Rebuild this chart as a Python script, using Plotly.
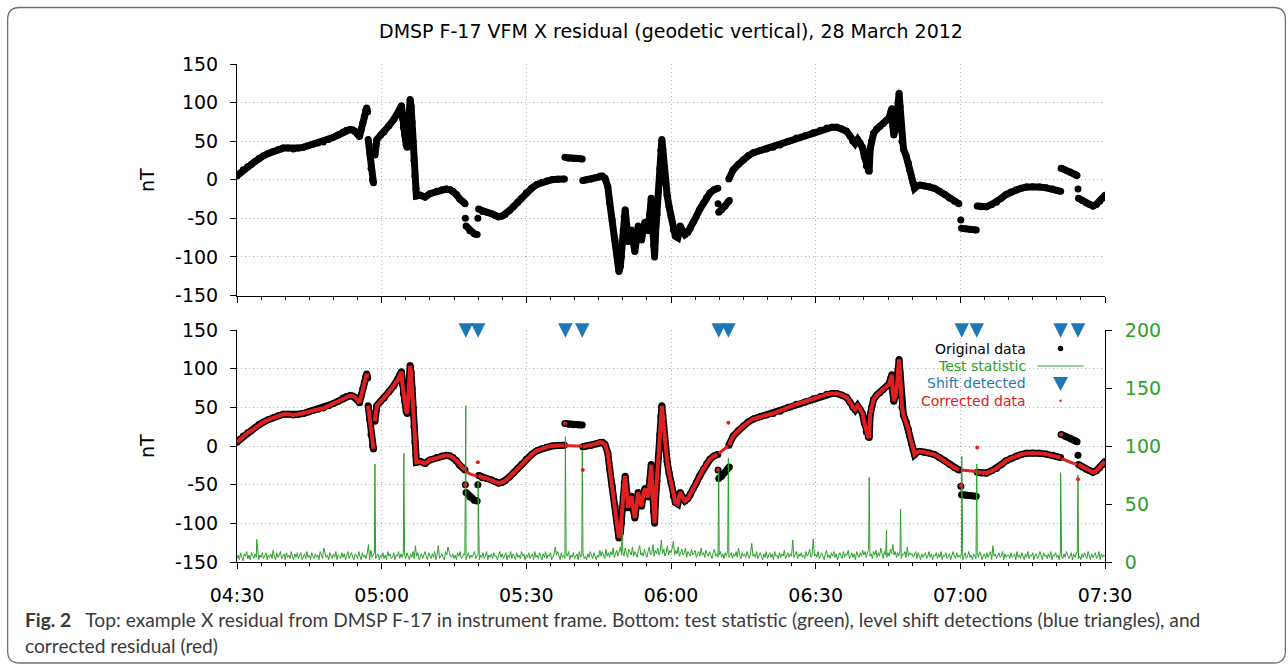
import plotly.graph_objects as go

# ---------------------------------------------------------------------------
# Time axis: minutes after 04:30 UT on 28 March 2012
# ---------------------------------------------------------------------------
tick_minutes = [0, 30, 60, 90, 120, 150, 180]
tick_labels = ["04:30", "05:00", "05:30", "06:00", "06:30", "07:00", "07:30"]
minor_minutes = [m for m in range(5, 180, 5) if m % 30]

nt_ticks = [-150, -100, -50, 0, 50, 100, 150]
nt_labels = ["-150", "-100", "-50", "0", "50", "100", "150"]
stat_ticks = [0, 50, 100, 150, 200]

# Original X residual (nT) on its un-shifted level; None breaks the trace
main_t = [
    0, 0.7, 1.3, 2.2, 3.0, 3.8, 4.6, 5.5, 6.5, 7.5, 8.5, 9.6, 10.6, 11.7, 12.7, 13.7, 14.8, 15.8,
    16.8, 17.9, 19.0, 20.0, 21.0, 22.0, 22.7, 23.4, 24.0, 24.5, 25.0, 25.4, 25.8, 26.1, 26.4, 26.7,
    26.9, 27.1, None,
    27.2, 27.5, 27.8, 28.1, 28.3, None,
    28.6, 28.8, 29.0, 29.8, 30.5, 31.5, 32.5, 33.3, 33.8, 34.1, 34.3, 34.5, 34.8, 35.1, 35.3, 35.5,
    35.7, 35.9, 36.1, 36.3, 36.5, 36.7, 36.9, 37.1, 37.2, 38.0, 39.0, 40.0, 41.4, 42.5, 43.4, 44.2,
    44.8, 45.5, 46.2, 46.8, 47.3, None,
    50.1, 50.9, 51.8, 52.8, 53.5, 54.2, 55.0, 55.6, 56.5, 57.3, 58.2, 59.0, 60.0, 61.1, 62.2, 63.2,
    64.2, 65.3, 66.5, 67.9, None,
    71.7, 72.5, 73.5, 74.5, 75.3, 75.8, 76.3, 76.9, 77.3, 77.8,
    78.4, 78.9, 79.2, 79.5, 79.7, 79.9, 80.1, 80.3, 80.5, 80.8,
    81.1, 81.4, 81.8, 82.2, 82.5, 82.9, 83.2, 83.6, 83.9, 84.3,
    84.6, 85.0, 85.3, 85.6, 85.9, 86.1, 86.4, 86.6, 86.8, 87.1,
    87.4, 87.7, 87.9, 88.1, 88.3, 88.6, 88.9, 89.2, 89.6, 90.0,
    90.5, 90.9, 91.4, 91.9, 92.4, 92.9, 93.5, 94.0, 94.6, 95.3,
    96.0, 96.7, 97.4, 98.1, 98.9, 99.7, None,
    102.0, 102.9, 104.0, 105.0, 106.0, 107.1, 108.5, 109.8, 111.2, 112.6,
    114.3, 116.0, 117.8, 119.5, 121.0, 122.3, 123.4, 124.4, 125.4, 126.4,
    127.1, 127.7, 128.2, 128.7, 129.2, 129.7, 130.1, 130.5, 130.9, 131.1,
    131.3, 131.6, 132.0, 132.7, 133.3, 134.0, 134.7, 135.2, 135.6, 135.8,
    136.0, 136.2, 136.6, 136.9, 137.1, 137.3, 137.5, 137.7, 137.9, 138.2,
    138.8, 139.2, 139.5, 139.9, 140.2, 140.5, 141.0, 141.6, 142.6, 143.6,
    144.6, 145.7, 146.8, 147.8, 148.8, 149.7, None,
    153.5, 154.4, 155.4, 156.5, 157.5, 158.5, 159.5, 160.5, 161.6, 162.6, 163.7, 165.0, 166.4,
    167.8, 169.2, 170.0, 170.8, None,
    174.5, 175.3, 176.1, 176.8, 177.5, 178.2, 178.9, 179.5, 180.0,
]
main_v = [
    5, 9, 13, 17, 20, 24, 28, 31, 34, 36.5, 39, 41, 41, 40, 41, 42, 44, 46,
    47.5, 49, 52, 55, 58, 62, 64, 65, 64.5, 63, 59, 56, 66, 74, 82, 90,
    93, 88, None,
    52, 35, 15, 0, -4, None,
    32, 45, 52, 58, 62, 70, 78, 85, 92, 96, 80, 68, 58, 45, 42, 60,
    85, 104, 95, 75, 50, 25, 5, -12, -21, -20, -22.5, -18, -15, -13, -12, -13,
    -15, -19, -25, -28, -31, None,
    -38, -41, -42, -44, -46, -48, -47, -45, -40, -35, -29, -24, -17, -11, -6, -3.5,
    -1.5, 0, 0.5, 1, None,
    -1, 0, 1, 3, 5, 4.5, 2, -9, -30, -52,
    -78, -104, -119, -112, -100, -82, -65, -48, -39, -58,
    -80, -72, -65, -82, -93, -75, -60, -72, -78, -62,
    -55, -62, -66, -45, -24, -50, -85, -100, -70, -45,
    -15, 15, 38, 52, 40, 15, -5, -20, -35, -48,
    -65, -73, -75, -60, -66, -71, -68, -63, -55, -47,
    -38, -30, -23, -17, -13, -11, None,
    1, 13, 20, 26, 31, 35, 38, 40, 42, 45,
    50, 54, 57, 61, 64, 67, 68, 68, 66, 63,
    57, 50, 47, 52, 48, 42, 30, 18, 12, 11,
    40, 50, 60, 66, 69, 73, 77, 80, 88, 92,
    70, 58, 66, 80, 100, 112, 95, 65, 50, 40,
    30, 22, 13, 3, -4, -11, -8, -7, -8, -9,
    -11, -15, -19, -24, -28, -31, None,
    -34, -35, -35, -32, -29, -24, -19, -16, -13, -11, -9.5, -9, -9.5,
    -10.5, -12, -13.5, -15, None,
    -24, -27, -30, -32, -34, -32, -28, -24, -20,
]

# Original samples sitting on a shifted level (plus single stray samples)
shift_t = [47.35, None, 47.5, 48.3, 49.2, 49.8, None, 49.95, None,
           68.0, 68.8, 69.8, 70.8, 71.6, None,
           99.75, None, 99.9, 100.5, 101.2, 101.8, 102.1, None,
           150.1, None, 150.25, 151.0, 152.0, 153.3, None,
           170.9, 171.8, 172.8, 173.8, 174.2, None, 174.4]
shift_v = [-50, None, -60, -66, -70, -71, None, -50, None,
           29, 28, 27.5, 27.5, 27, None,
           -31, None, -42, -39, -34, -29, -27, None,
           -52, None, -63, -63.5, -64, -65, None,
           15, 12.5, 10, 7, 5.5, None, -12]

# Corrected values over the shifted runs
fixed_t = [47.5, 48.3, 49.2, 49.8, None,
           68.1, 69.0, 70.0, 71.0, 71.6, None,
           99.9, 100.5, 101.2, 101.8, None,
           150.25, 151.0, 152.0, 153.3, None,
           170.95, 171.8, 172.8, 173.8, 174.2]
fixed_v = [-33, -36, -38, -39, None,
           0.5, 0, 0, 0, -0.5, None,
           -10, -7, -3, 0, None,
           -31, -31.5, -32, -33, None,
           -16, -18.5, -21, -23, -24]

# Corrected single samples at the run boundaries
edge_t = [47.35, 49.95, 68.0, 71.7, 99.75, 101.9, 150.1, 153.5, 170.9, 174.4]
edge_v = [-50, -21, 29, -31, -31, 30, -51, -2, 15, -43]

# Detected level shifts
detect_t = [47.45, 50.0, 68.1, 71.6, 99.9, 101.9, 150.3, 153.4, 170.8, 174.4]

# Test statistic: background every 15 s (one row = 10 minutes), plus isolated peaks
stat_step = 0.25
stat_noise = [
    3, 6, 2, 8, 4, 1, 7, 5, 9, 3, 6, 2, 8, 5, 3, 7, 4, 9, 2, 6, 4, 8, 3, 5, 8, 2, 6, 4, 7, 3, 10, 5, 2, 8, 4, 6, 9, 3, 5, 7,
    2, 8, 4, 6, 3, 9, 5, 2, 7, 4, 8, 3, 6, 8, 2, 5, 7, 3, 9, 4, 6, 2, 8, 5, 3, 7, 4, 6, 2, 9, 5, 3, 12, 7, 4, 6, 2, 8, 5, 3,
    7, 4, 9, 2, 6, 5, 3, 8, 4, 7, 2, 6, 9, 3, 5, 8, 4, 2, 7, 6, 3, 9, 5, 2, 8, 4, 6, 3, 7, 15, 2, 10, 4, 6, 8, 3, 5, 7, 2, 6,
    4, 8, 3, 6, 2, 9, 5, 7, 3, 4, 8, 2, 6, 5, 9, 3, 7, 4, 8, 6, 3, 8, 5, 2, 7, 4, 9, 3, 14, 5, 8, 2, 4, 7, 3, 6, 9, 5, 2, 8,
    5, 3, 7, 4, 9, 2, 6, 14, 3, 5, 7, 4, 2, 9, 6, 13, 8, 5, 4, 7, 3, 6, 2, 8, 5, 9, 3, 4, 7, 6, 2, 5, 8, 3, 6, 4, 6, 9, 3, 5,
    7, 2, 6, 4, 8, 3, 5, 9, 2, 6, 4, 7, 3, 8, 5, 5, 2, 6, 9, 4, 7, 3, 5, 8, 2, 6, 4, 9, 3, 7, 5, 2, 8, 4, 6, 3, 9, 5, 7, 2,
    6, 4, 8, 3, 5, 7, 2, 9, 4, 6, 3, 8, 5, 2, 7, 4, 9, 3, 6, 5, 8, 2, 4, 7, 13, 6, 9, 5, 2, 8, 4, 6, 3, 7, 5, 9, 2, 6, 4, 8,
    3, 5, 7, 2, 9, 4, 6, 8, 3, 5, 2, 7, 4, 9, 6, 3, 8, 5, 2, 6, 4, 10, 5, 9, 6, 3, 11, 5, 8, 4, 9, 6, 12, 4, 7, 10, 5, 8, 13, 6,
    9, 5, 12, 7, 4, 11, 8, 6, 13, 5, 9, 7, 4, 10, 14, 6, 8, 5, 11, 7, 4, 9, 13, 6, 8, 15, 5, 10, 7, 12, 6, 9, 19, 7, 11, 5, 8, 14, 6, 10,
    8, 12, 18, 6, 10, 7, 13, 5, 9, 11, 6, 8, 12, 4, 9, 7, 5, 11, 6, 8, 10, 4, 7, 9, 5, 12, 6, 8, 4, 10, 7, 5, 9, 6, 3, 8, 11, 5, 7, 4,
    6, 9, 4, 7, 3, 8, 5, 10, 4, 6, 8, 3, 7, 5, 9, 4, 12, 6, 3, 8, 5, 7, 4, 9, 6, 3, 8, 16, 5, 7, 4, 9, 3, 6, 8, 5, 2, 7, 4, 9,
    3, 6, 8, 4, 7, 2, 9, 5, 6, 3, 8, 4, 7, 5, 10, 3, 6, 8, 4, 7, 5, 19, 4, 6, 9, 3, 7, 5, 8, 4, 6, 3, 9, 5, 7, 11, 4, 6, 20, 5,
    7, 4, 9, 3, 6, 8, 5, 2, 7, 10, 4, 6, 3, 8, 5, 9, 4, 7, 2, 6, 8, 5, 3, 9, 4, 7, 6, 10, 3, 5, 8, 4, 7, 2, 9, 6, 4, 8, 5, 10,
    6, 9, 4, 8, 11, 5, 7, 3, 9, 6, 10, 4, 8, 5, 12, 7, 3, 9, 6, 4, 8, 5, 11, 7, 15, 6, 9, 4, 8, 5, 10, 3, 7, 6, 9, 4, 13, 5, 8, 6,
    7, 4, 6, 9, 3, 8, 5, 2, 7, 4, 6, 8, 3, 5, 9, 4, 7, 2, 6, 5, 8, 3, 7, 4, 9, 2, 6, 5, 8, 3, 4, 7, 2, 6, 9, 5, 3, 8, 4, 6,
    4, 7, 2, 6, 8, 3, 5, 9, 4, 6, 2, 7, 5, 3, 8, 4, 9, 6, 2, 5, 7, 3, 8, 4, 6, 9, 2, 14, 5, 7, 3, 6, 8, 4, 5, 9, 2, 7, 4, 6,
    6, 3, 8, 4, 5, 7, 2, 9, 4, 6, 3, 8, 5, 2, 7, 4, 9, 3, 6, 5, 8, 2, 6, 7, 3, 5, 9, 4, 2, 8, 5, 6, 3, 7, 4, 9, 2, 6, 5, 8,
    4, 6, 2, 8, 5, 3, 7, 4, 9, 6, 3, 5, 8, 2, 7, 4, 6, 9, 3, 5, 2, 7, 4, 8, 6, 3, 9, 5, 2, 7, 4, 6, 8, 3, 5, 9, 2, 7, 4, 6,
    5,
]
peak_t = [4.1, 28.6, 34.6, 47.45, 50.0, 68.1, 71.6, 79.9, 99.9, 101.9,
          131.1, 134.7, 137.6, 150.3, 153.4, 170.8, 174.4]
peak_v = [19.5, 84.5, 93.7, 134.7, 70, 108, 96.5, 59, 78, 89.5,
          73, 27.6, 45.7, 91, 84.5, 77, 75]

assert len(main_t) == len(main_v)
assert len(shift_t) == len(shift_v)
assert len(fixed_t) == len(fixed_v)
assert len(stat_noise) == 721

stat_pts = sorted([(i * stat_step, v) for i, v in enumerate(stat_noise)] + list(zip(peak_t, peak_v)))
stat_t = [p[0] for p in stat_pts]
stat_v = [p[1] for p in stat_pts]

# ---------------------------------------------------------------------------
# Styling
# ---------------------------------------------------------------------------
BLACK, GREEN, BLUE, RED = "#000000", "#2ca02c", "#1f77b4", "#e02020"
GRID = "#b4b4b4"
GRID_DASH = "1px,3px"
TICK_FONT = dict(family="DejaVu Sans", size=19, color="black")
FIG_W, FIG_H = 1288, 665
PL, PR, PT, PB = 237, 1105.5, 64, 562          # plot box in pixels
TOP_BOTTOM, BOT_TOP = 295.5, 330               # panel edges in pixels
TRI_Y = 140                                    # marker tip just under the top of the lower panel


def px(x):
    return (x - PL) / (PR - PL)


def py(y):
    return (PB - y) / (PB - PT)


fig = go.Figure()

# Upper panel: original residual
for tt, vv in ((main_t, main_v), (shift_t, shift_v)):
    fig.add_trace(go.Scatter(x=tt, y=vv, mode="lines+markers", xaxis="x", yaxis="y",
                             line=dict(color=BLACK, width=7), marker=dict(color=BLACK, size=7),
                             hoverinfo="skip"))

# Lower panel: original residual underneath
for tt, vv in ((main_t, main_v), (shift_t, shift_v)):
    fig.add_trace(go.Scatter(x=tt, y=vv, mode="lines+markers", xaxis="x2", yaxis="y2",
                             line=dict(color=BLACK, width=7), marker=dict(color=BLACK, size=7),
                             hoverinfo="skip"))

# Test statistic on the right-hand scale
fig.add_trace(go.Scatter(x=stat_t, y=stat_v, mode="lines", xaxis="x2", yaxis="y4",
                         line=dict(color=GREEN, width=1), hoverinfo="skip"))

# Corrected residual on top
fig.add_trace(go.Scatter(x=main_t, y=main_v, mode="lines", xaxis="x2", yaxis="y5",
                         line=dict(color=RED, width=4), hoverinfo="skip"))
fig.add_trace(go.Scatter(x=fixed_t, y=fixed_v, mode="lines", xaxis="x2", yaxis="y5",
                         line=dict(color=RED, width=3), hoverinfo="skip"))
fig.add_trace(go.Scatter(x=edge_t, y=edge_v, mode="markers", xaxis="x2", yaxis="y5",
                         marker=dict(color=RED, size=4), hoverinfo="skip"))

# Shift detections
fig.add_trace(go.Scatter(x=detect_t, y=[TRI_Y] * len(detect_t), mode="markers",
                         xaxis="x2", yaxis="y5", cliponaxis=False,
                         marker=dict(symbol="arrow-down", size=14.5, color=BLUE),
                         hoverinfo="skip"))

x_common = dict(range=[0, 180], showline=True, linecolor="black", linewidth=1,
                ticks="outside", ticklen=6, tickcolor="black", tickwidth=1,
                tickmode="array", tickvals=tick_minutes, ticktext=tick_labels,
                showgrid=True, gridcolor=GRID, griddash=GRID_DASH, gridwidth=1, zeroline=False,
                minor=dict(tickmode="array", tickvals=minor_minutes, ticks="outside",
                           ticklen=3, tickcolor="black", tickwidth=1, showgrid=False),
                tickfont=TICK_FONT, fixedrange=True)
y_common = dict(range=[-150, 150], tickmode="array", tickvals=nt_ticks, ticktext=nt_labels,
                showline=True, linecolor="black", linewidth=1, ticks="outside", ticklen=6,
                tickcolor="black", showgrid=True, gridcolor=GRID, griddash=GRID_DASH, gridwidth=1,
                zeroline=False, tickfont=TICK_FONT, ticklabelstandoff=8, fixedrange=True)

top_dom = [py(TOP_BOTTOM), 1]
bot_dom = [0, py(BOT_TOP)]

fig.update_layout(
    width=FIG_W, height=FIG_H,
    margin=dict(l=PL, r=FIG_W - PR, t=PT, b=FIG_H - PB, pad=0),
    paper_bgcolor="white", plot_bgcolor="white", showlegend=False,
    xaxis=dict(x_common, anchor="y", showticklabels=False),
    xaxis2=dict(x_common, anchor="y2", ticklabelstandoff=10),
    yaxis=dict(y_common, domain=top_dom, anchor="x"),
    yaxis3=dict(range=[-150, 150], overlaying="y", side="right", anchor="x",
                tickmode="array", tickvals=nt_ticks,
                ticks="inside", ticklen=6, tickcolor="black", showline=True, linecolor="black",
                showticklabels=False, showgrid=False, zeroline=False, fixedrange=True),
    yaxis2=dict(y_common, domain=bot_dom, anchor="x2"),
    yaxis4=dict(range=[0, 200], overlaying="y2", side="right", anchor="x2",
                tickmode="array", tickvals=stat_ticks, ticks="outside", ticklen=6,
                tickcolor="black", showline=True, linecolor="black", showgrid=False,
                zeroline=False, tickfont=dict(TICK_FONT, color=GREEN), ticklabelstandoff=9,
                fixedrange=True),
    yaxis5=dict(range=[-150, 150], overlaying="y2", anchor="x2", visible=False, fixedrange=True),
)

annotations = [
    dict(text="DMSP F-17 VFM X residual (geodetic vertical), 28 March 2012",
         x=px(671), y=py(31), font=dict(family="DejaVu Sans", size=19, color="black")),
    dict(text="nT", x=px(147), y=py(180), textangle=-90, font=TICK_FONT),
    dict(text="nT", x=px(147), y=py(446), textangle=-90, font=TICK_FONT),
]
legend_rows = [("Original data", BLACK, 348.5), ("Test statistic", GREEN, 366),
               ("Shift detected", BLUE, 383.3), ("Corrected data", RED, 400.7)]
for label, color, yy in legend_rows:
    annotations.append(dict(text=label, x=px(1028), y=py(yy), xanchor="right",
                            font=dict(family="DejaVu Sans", size=14, color=color)))

cap_font = dict(family="Lato", size=19.2, color="#3a3a3a")
annotations += [
    dict(text="<b>Fig. 2</b>\u00a0\u00a0 Top: example X residual from DMSP F-17 in instrument frame. "
              "Bottom: test statistic (green), level shift detections (blue triangles), and",
         x=px(23), y=py(619), xanchor="left", font=cap_font),
    dict(text="corrected residual (red)", x=px(23), y=py(645), xanchor="left", font=cap_font),
]
for a in annotations:
    a.setdefault("xref", "paper")
    a.setdefault("yref", "paper")
    a.setdefault("showarrow", False)
    a.setdefault("xanchor", "center")
    a.setdefault("yanchor", "middle")
fig.update_layout(annotations=annotations)

# Legend symbols and the rounded frame
L_, R_, T_, B_, rad = 7.5, 1286, 7.5, 663, 12
frame = (f"M {px(L_ + rad)},{py(T_)} L {px(R_ - rad)},{py(T_)} "
         f"Q {px(R_)},{py(T_)} {px(R_)},{py(T_ + rad)} L {px(R_)},{py(B_ - rad)} "
         f"Q {px(R_)},{py(B_)} {px(R_ - rad)},{py(B_)} L {px(L_ + rad)},{py(B_)} "
         f"Q {px(L_)},{py(B_)} {px(L_)},{py(B_ - rad)} L {px(L_)},{py(T_ + rad)} "
         f"Q {px(L_)},{py(T_)} {px(L_ + rad)},{py(T_)} Z")
tri = (f"M {px(1053.5)},{py(377)} L {px(1068.5)},{py(377)} L {px(1061)},{py(391)} Z")
shapes = [
    dict(type="path", path=frame, line=dict(color="#707070", width=1.3)),
    dict(type="circle", x0=px(1058.3), x1=px(1063.7), y0=py(345.8), y1=py(351.2),
         fillcolor=BLACK, line=dict(width=0)),
    dict(type="line", x0=px(1038), x1=px(1084), y0=py(366), y1=py(366),
         line=dict(color=GREEN, width=1)),
    dict(type="path", path=tri, fillcolor=BLUE, line=dict(width=0)),
    dict(type="circle", x0=px(1059.8), x1=px(1062.2), y0=py(399.5), y1=py(401.9),
         fillcolor=RED, line=dict(width=0)),
]
for s in shapes:
    s["xref"] = "paper"
    s["yref"] = "paper"
fig.update_layout(shapes=shapes)

fig.write_html("out.html")
